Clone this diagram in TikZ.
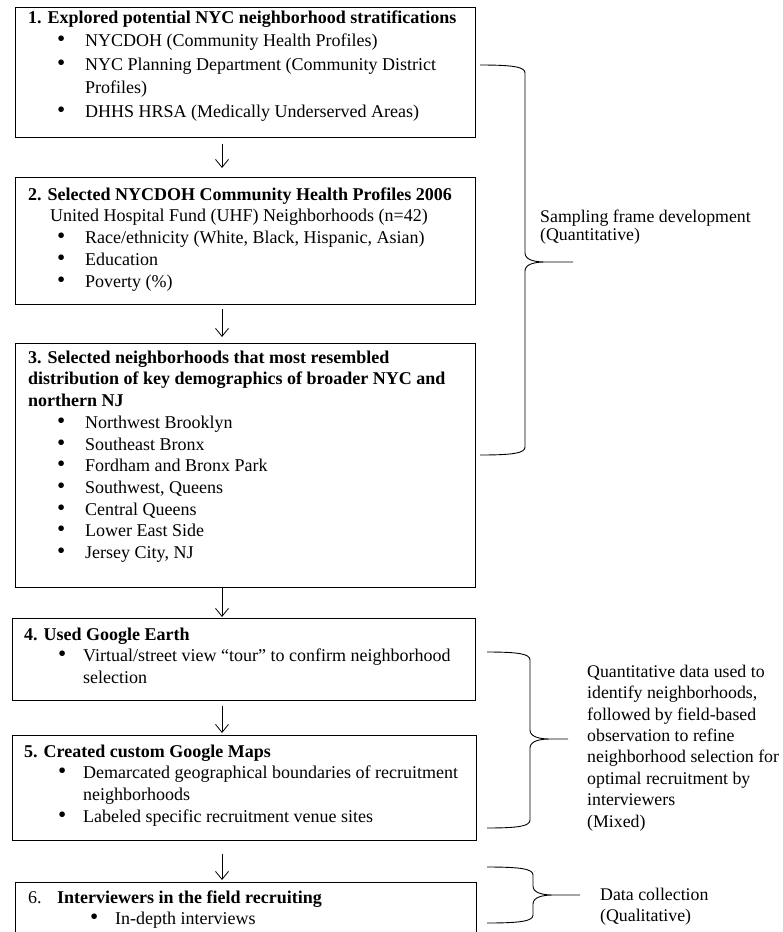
\documentclass[tikz,border=0pt]{standalone}
\usepackage{fontspec}
\setmainfont{Liberation Serif}
\usetikzlibrary{arrows.meta,calc}
\newcommand{\itm}[3]{\hspace*{#1}\makebox[#2][l]{\scalebox{1.3}{\textbullet}}#3}
\newcommand{\fs}{\rule{0pt}{13pt}}
\newcommand{\curlybrace}[5]{\draw[brace] (#1) .. controls +(0.75*#2,0) and +(0,-6) .. ++(#2,8) -- ++(0,#3) .. controls +(0,7) and +(-10,0) .. ++(20,9) -- ++(#4,0) ++(-#4,0) .. controls +(-10,0) and +(0,-7) .. ++(-20,9) -- ++(0,#5) .. controls +(0,6) and +(0.75*#2,0) .. ++(-#2,8);}
\begin{document}
\begin{tikzpicture}[x=1pt,y=-1pt,
  box/.style={draw,line width=0.8pt,anchor=north west,inner sep=0pt},
  txt/.style={anchor=north west,inner sep=0pt,align=left,font=\fontsize{18}{21.7}\selectfont},
  side/.style={anchor=north west,inner sep=0pt,align=left,font=\fontsize{17.8}{21.4}\selectfont},
  arr/.style={-{Straight Barb[length=8pt,width=13pt,line width=0.8pt]},line width=0.8pt},
  brace/.style={line width=0.9pt}]
\useasboundingbox (0,0) rectangle (783,932);

% boxes
\node[box,minimum width=460pt,minimum height=130pt] (b1) at (15,7) {};
\node[box,minimum width=460pt,minimum height=127pt] (b2) at (15,177) {};
\node[box,minimum width=460pt,minimum height=244pt] (b3) at (15,343) {};
\node[box,minimum width=463pt,minimum height=82pt] (b4) at (12,618) {};
\node[box,minimum width=464pt,minimum height=105pt] (b5) at (12,735) {};
\node[box,minimum width=461pt,minimum height=90pt] (b6) at (15,882) {};

% box texts
\node[txt] (t1) at (28,10) {\fs\textbf{1. Explored potential NYC neighborhood stratifications}\\[1.8pt]
\itm{29pt}{28pt}{NYCDOH (Community Health Profiles)}\\[1.8pt]
\itm{29pt}{28pt}{NYC Planning Department (Community District}\\[1.8pt]
\hspace*{57pt}Profiles)\\[1.8pt]
\itm{29pt}{28pt}{DHHS HRSA (Medically Underserved Areas)}};

\node[txt] (t2) at (28,187) {\fs\textbf{2. Selected NYCDOH Community Health Profiles 2006}\\
\hspace*{22pt}United Hospital Fund (UHF) Neighborhoods (n=42)\\
\itm{29pt}{28pt}{Race/ethnicity (White, Black, Hispanic, Asian)}\\
\itm{29pt}{28pt}{Education}\\
\itm{29pt}{28pt}{Poverty (\%)}};

\node[txt] (t3) at (28,350) {\fs\textbf{3. Selected neighborhoods that most resembled}\\
\textbf{distribution of key demographics of broader NYC and}\\
\textbf{northern NJ}\\
\itm{29pt}{28pt}{Northwest Brooklyn}\\
\itm{29pt}{28pt}{Southeast Bronx}\\
\itm{29pt}{28pt}{Fordham and Bronx Park}\\
\itm{29pt}{28pt}{Southwest, Queens}\\
\itm{29pt}{28pt}{Central Queens}\\
\itm{29pt}{28pt}{Lower East Side}\\
\itm{29pt}{28pt}{Jersey City, NJ}};

\node[txt] (t4) at (24,627) {\fs\textbf{4. Used Google Earth}\\
\itm{34pt}{25pt}{Virtual/street view “tour” to confirm neighborhood}\\
\hspace*{59pt}selection};

\node[txt] (t5) at (24,744) {\fs\textbf{5. Created custom Google Maps}\\
\itm{34pt}{25pt}{Demarcated geographical boundaries of recruitment}\\
\hspace*{59pt}neighborhoods\\
\itm{34pt}{25pt}{Labeled specific recruitment venue sites}};

\node[txt] (t6) at (28,890) {\fs\makebox[29pt][l]{6.}\textbf{Interviewers in the field recruiting}\\
\itm{62pt}{25pt}{In-depth interviews}};

% arrows
\coordinate (ax) at (222,0);
\draw[arr] ($(ax |- b1.south)+(0,6)$) -- ($(ax |- b2.north)+(0,-9)$);
\draw[arr] ($(ax |- b2.south)+(0,4)$) -- ($(ax |- b3.north)+(0,-6)$);
\draw[arr] ($(ax |- b3.south)+(0,0)$) -- ($(ax |- b4.north)+(0,-1)$);
\draw[arr] ($(ax |- b4.south)+(0,5)$) -- ($(ax |- b5.north)+(0,-2)$);
\draw[arr] ($(ax |- b5.south)+(0,13)$) -- ($(ax |- b6.north)+(0,-2)$);

% braces
\curlybrace{480,65}{45}{180}{28}{176}
\curlybrace{487,652}{43}{70}{18}{72}
\curlybrace{487,867}{46}{11}{27}{11}

% side labels
\node[side] (s1) at (540,209) {\fs Sampling frame development\\[-3pt](Quantitative)};
\node[side] (s2) at (587,664) {\fs Quantitative data used to\\
identify neighborhoods,\\
followed by field-based\\
observation to refine\\
neighborhood selection for\\
optimal recruitment by\\
interviewers\\
(Mixed)};
\node[side] (s3) at (600,887) {\fs Data collection\\(Qualitative)};
\end{tikzpicture}
\end{document}
